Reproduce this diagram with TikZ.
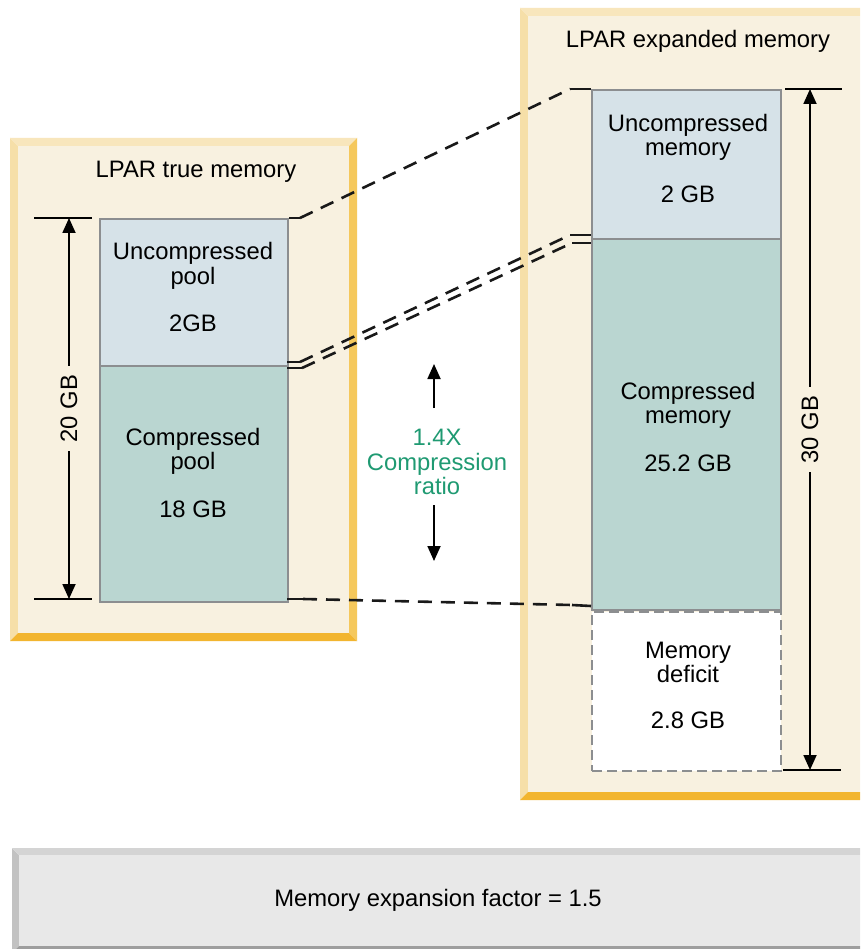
\documentclass[tikz,border=0pt]{standalone}
\usepackage{fontspec}
\setmainfont{Liberation Sans}
\usetikzlibrary{arrows.meta}
\definecolor{cream}{HTML}{F8F1E0}
\definecolor{frT}{HTML}{F8E6BC}
\definecolor{frL}{HTML}{F6DFA8}
\definecolor{frR}{HTML}{F5C85C}
\definecolor{frB}{HTML}{F2B52F}
\definecolor{gyT}{HTML}{D4D4D4}
\definecolor{gyL}{HTML}{C2C2C2}
\definecolor{gyB}{HTML}{9E9E9E}
\definecolor{gyF}{HTML}{E8E8E8}
\definecolor{ublue}{HTML}{D6E2E8}
\definecolor{cteal}{HTML}{BAD6D1}
\definecolor{edge}{HTML}{8C8E90}
\definecolor{ratiogreen}{HTML}{1F9A72}
\tikzset{
  txt/.style={font=\fontsize{23.8}{26}\selectfont, inner sep=0pt, anchor=base},
  blk/.style={draw=edge, line width=2.2pt, inner sep=0pt, anchor=north west},
  dimline/.style={line width=1.8pt, black},
  dimarrow/.style={line width=1.8pt, black, {Triangle[length=15pt,width=13pt]}-{Triangle[length=15pt,width=13pt]}},
  onearrow/.style={line width=1.8pt, black, -{Triangle[length=15pt,width=13pt]}},
  conn/.style={line width=2.6pt, black!90, dash pattern=on 14pt off 9pt},
  stub/.style={line width=2.6pt, black!90},
}
\begin{document}
\begin{tikzpicture}[x=1pt,y=-1pt]
\useasboundingbox (0,0) rectangle (860,949);
\clip (0,0) rectangle (860,949);
\fill[white] (0,0) rectangle (860,949);

% ---- left panel frame
\fill[frL] (10,138) -- (18,146) -- (18,633) -- (10,641) -- cycle;
\fill[frT] (10,138) -- (357,138) -- (349,146) -- (18,146) -- cycle;
\fill[frR] (357,138) -- (357,641) -- (349,633) -- (349,146) -- cycle;
\fill[frB] (10,641) -- (357,641) -- (349,633) -- (18,633) -- cycle;
\fill[cream] (18,146) rectangle (349,633);

% ---- right panel frame
\fill[frL] (520,8) -- (528,16) -- (528,792) -- (520,800) -- cycle;
\fill[frT] (520,8) -- (872,8) -- (864,16) -- (528,16) -- cycle;
\fill[frB] (520,800) -- (872,800) -- (864,792) -- (528,792) -- cycle;
\fill[cream] (528,16) rectangle (864,792);

% ---- bottom bar frame
\fill[gyL] (12,848) -- (19,855) -- (19,946) -- (12,953) -- cycle;
\fill[gyT] (12,848) -- (872,848) -- (865,855) -- (19,855) -- cycle;
\fill[gyB] (12,953) -- (872,953) -- (865,946) -- (19,946) -- cycle;
\fill[gyF] (19,855) rectangle (865,946);
\node[txt] (factor) at (438,906) {Memory expansion factor = 1.5};

% ---- titles
\node[txt] (ltitle) at (196,178) {LPAR true memory};
\node[txt] (rtitle) at (698,48) {LPAR expanded memory};

% ---- left stack
\node[blk, fill=cteal, minimum width=188pt, minimum height=236pt] (lc) at (99,365) {};
\node[blk, fill=ublue, minimum width=188pt, minimum height=147pt] (lu) at (99,218) {};
\node[txt] (lu1) at (193,260) {Uncompressed};
\node[txt] (lu2) at (193,284) {pool};
\node[txt] (lu3) at (193,331) {2GB};
\node[txt] (lc1) at (193,445) {Compressed};
\node[txt] (lc2) at (193,469) {pool};
\node[txt] (lc3) at (193,517) {18 GB};

% ---- right stack
\node[blk, fill=white, draw=edge, line width=2.4pt, dash pattern=on 10pt off 5pt, minimum width=189pt, minimum height=159pt] (rd) at (591,611) {};
\node[blk, fill=cteal, minimum width=189pt, minimum height=371pt] (rc) at (591,238) {};
\node[blk, fill=ublue, minimum width=189pt, minimum height=149pt] (ru) at (591,89) {};
\node[txt] (ru1) at (688,132) {Uncompressed};
\node[txt] (ru2) at (688,156) {memory};
\node[txt] (ru3) at (688,203) {2 GB};
\node[txt] (rc1) at (688,399) {Compressed};
\node[txt] (rc2) at (688,423) {memory};
\node[txt] (rc3) at (688,471) {25.2 GB};
\node[txt] (rd1) at (688,658) {Memory};
\node[txt] (rd2) at (688,682) {deficit};
\node[txt] (rd3) at (688,728) {2.8 GB};

% ---- left dimension
\coordinate (lda) at (34,218); \coordinate (ldb) at (92,218);
\coordinate (ldc) at (34,599); \coordinate (ldd) at (92,599);
\coordinate (ldt) at (69,218); \coordinate (ldbt) at (69,599);
\draw[dimline] (lda) -- (ldb);
\draw[dimline] (ldc) -- (ldd);
\draw[dimarrow] (ldt) -- (ldbt) node[midway, fill=cream, rotate=90, font=\fontsize{23.8}{26}\selectfont, inner xsep=9pt, inner ysep=2pt] (ldlab) {20 GB};

% ---- right dimension
\coordinate (rda) at (785,89); \coordinate (rdb) at (842,89);
\coordinate (rdc) at (783,770); \coordinate (rdd) at (841,770);
\coordinate (rdt) at (810,89); \coordinate (rdbt) at (810,770);
\draw[dimline] (rda) -- (rdb);
\draw[dimline] (rdc) -- (rdd);
\draw[dimarrow] (rdt) -- (rdbt) node[midway, fill=cream, rotate=90, font=\fontsize{23.8}{26}\selectfont, inner xsep=9pt, inner ysep=2pt] (rdlab) {30 GB};

% ---- compression ratio
\coordinate (up0) at (434,408); \coordinate (up1) at (434,364);
\coordinate (dn0) at (434,505); \coordinate (dn1) at (434,561);
\draw[onearrow] (up0) -- (up1);
\draw[onearrow] (dn0) -- (dn1);
\node[txt, text=ratiogreen] (r1) at (437,445) {1.4X};
\node[txt, text=ratiogreen] (r2) at (437,470) {Compression};
\node[txt, text=ratiogreen] (r3) at (437,494) {ratio};

% ---- connectors: top
\coordinate (t1) at (lu.north east);
\coordinate (t2) at (300,218);
\coordinate (t3) at (570,89);
\coordinate (t4) at (ru.north west);
\draw[stub] (t1) -- (t2);
\draw[conn] (t2) -- (t3);
\draw[stub] (t3) -- (t4);

% ---- connectors: double middle
\coordinate (m1a) at (287,362); \coordinate (m2a) at (300,362);
\coordinate (m3a) at (570,235); \coordinate (m4a) at (591,235);
\coordinate (m1b) at (287,368); \coordinate (m2b) at (302,368);
\coordinate (m3b) at (572,243); \coordinate (m4b) at (591,243);
\draw[stub] (m1a) -- (m2a);
\draw[conn] (m2a) -- (m3a);
\draw[stub] (m3a) -- (m4a);
\draw[stub] (m1b) -- (m2b);
\draw[conn] (m2b) -- (m3b);
\draw[stub] (m3b) -- (m4b);

% ---- connectors: bottom
\coordinate (b1) at (287,599);
\coordinate (b2) at (303,599);
\coordinate (b3) at (572,605);
\coordinate (b4) at (591,606);
\draw[stub] (b1) -- (b2);
\draw[conn] (b2) -- (b3);
\draw[stub] (b3) -- (b4);
\end{tikzpicture}
\end{document}
